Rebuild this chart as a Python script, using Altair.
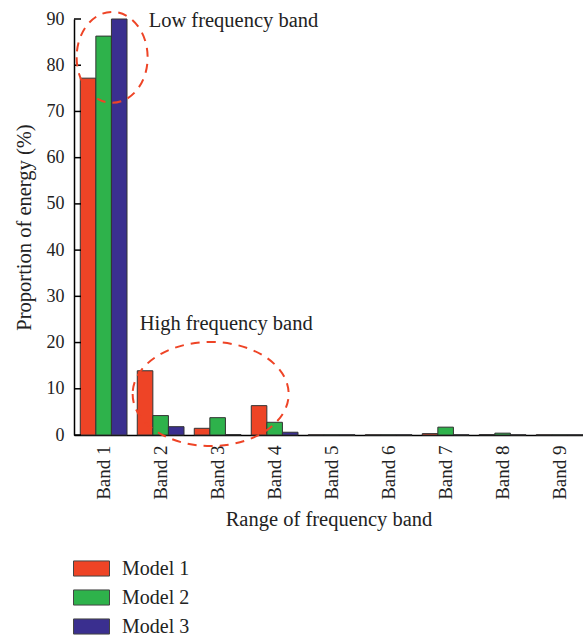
import altair as alt
import pandas as pd

bands = [f"Band {i}" for i in range(1, 10)]
models = ["Model 1", "Model 2", "Model 3"]
model1 = [77.2, 13.9, 1.45, 6.35, 0.05, 0.05, 0.3, 0.1, 0.05]
model2 = [86.3, 4.2, 3.75, 2.75, 0.05, 0.05, 1.7, 0.4, 0.05]
model3 = [90.0, 1.8, 0.1, 0.6, 0.05, 0.05, 0.05, 0.05, 0.05]
colors = ["#EE4426", "#2EB24B", "#3A2F8F"]
y_ticks = list(range(0, 91, 10))

# annotations
note_labels = ["Low frequency band", "High frequency band"]
note_bands = ["Band 1", "Band 2"]
note_y = [88.3, 22.7]
note_dx = [45, -21]

rows = []
for b, a, g, c in zip(bands, model1, model2, model3):
    rows.append({"Band": b, "Model": "Model 1", "Value": a})
    rows.append({"Band": b, "Model": "Model 2", "Value": g})
    rows.append({"Band": b, "Model": "Model 3", "Value": c})
df = pd.DataFrame(rows)

FONT = "Liberation Serif"

xscale = alt.Scale(domain=bands, paddingInner=0.18, paddingOuter=0.055, align=1)
yscale = alt.Scale(domain=[0, 90], nice=False, zero=True)

bars = alt.Chart(df).mark_bar(stroke="#333333", strokeWidth=1).encode(
    x=alt.X("Band:N", sort=bands, scale=xscale,
            axis=alt.Axis(title="Range of frequency band", labelAngle=-90, ticks=False,
                          labelPadding=10, titlePadding=10, domainColor="#000000",
                          domainWidth=1.5, labelFontSize=19)),
    xOffset=alt.XOffset("Model:N", sort=models, scale=alt.Scale(domain=models, paddingInner=0, paddingOuter=0)),
    y=alt.Y("Value:Q", scale=yscale,
            axis=alt.Axis(values=y_ticks, ticks=False, grid=False, title="Proportion of energy (%)",
                          labelPadding=10, titlePadding=12, domainColor="#000000", domainWidth=1.5)),
    color=alt.Color("Model:N", scale=alt.Scale(domain=models, range=colors),
                    legend=alt.Legend(title=None, orient="none", legendX=-1, legendY=531,
                                      symbolType="M -1 -0.42 H 1 V 0.42 H -1 Z", symbolSize=1296,
                                      symbolStrokeColor="#444444", symbolStrokeWidth=1,
                                      labelFontSize=20, labelFont=FONT, labelOffset=12,
                                      rowPadding=0)),
)

tick_df = pd.DataFrame({"t": y_ticks})
ticks = alt.Chart(tick_df).mark_rule(color="#000000", strokeWidth=1.5).encode(
    y=alt.Y("t:Q", scale=yscale),
    x=alt.value(0), x2=alt.value(7),
)

note_df = pd.DataFrame({"label": note_labels, "Band": note_bands, "y": note_y, "dx": note_dx})
notes = alt.layer(*[
    alt.Chart(note_df.iloc[[i]]).mark_text(align="left", baseline="alphabetic", dx=note_dx[i],
                                           fontSize=20.5, font=FONT, color="#222222").encode(
        x=alt.X("Band:N", scale=xscale, sort=bands),
        y=alt.Y("y:Q", scale=yscale),
        text="label:N",
    )
    for i in range(len(note_labels))
])

ell_bands = ["Band 1", "Band 3"]
ell_y = [81.7, 8.87]
ell_dx = [8.5, -7]
ell_shapes = ["M -1 0 A 1 1.28 0 1 0 1 0 A 1 1.28 0 1 0 -1 0",
              "M -1 0 A 1 0.667 0 1 0 1 0 A 1 0.667 0 1 0 -1 0"]
ell_sizes = [5041, 24336]
ell_df = pd.DataFrame({"Band": ell_bands, "y": ell_y})
ellipses = alt.layer(*[
    alt.Chart(ell_df.iloc[[i]]).mark_point(shape=ell_shapes[i], size=ell_sizes[i], filled=False,
                                           stroke="#EE4426", strokeWidth=2, strokeDash=[9, 7],
                                           xOffset=ell_dx[i], opacity=1).encode(
        x=alt.X("Band:N", scale=xscale, sort=bands),
        y=alt.Y("y:Q", scale=yscale),
    )
    for i in range(2)
])

chart = alt.layer(bars, ticks, ellipses, notes).properties(
    width=509, height=416,
    autosize=alt.AutoSizeParams(type="none"),
    padding={"left": 74, "top": 19, "right": 0, "bottom": 200},
).configure_view(stroke=None).configure_axis(
    labelFont=FONT, titleFont=FONT, labelFontSize=18, titleFontSize=20.5,
    labelColor="#222222", titleColor="#222222", titleFontWeight="normal",
).configure_legend(labelColor="#222222")

chart.save("out.html", embed_options={"renderer": "svg", "actions": False})
